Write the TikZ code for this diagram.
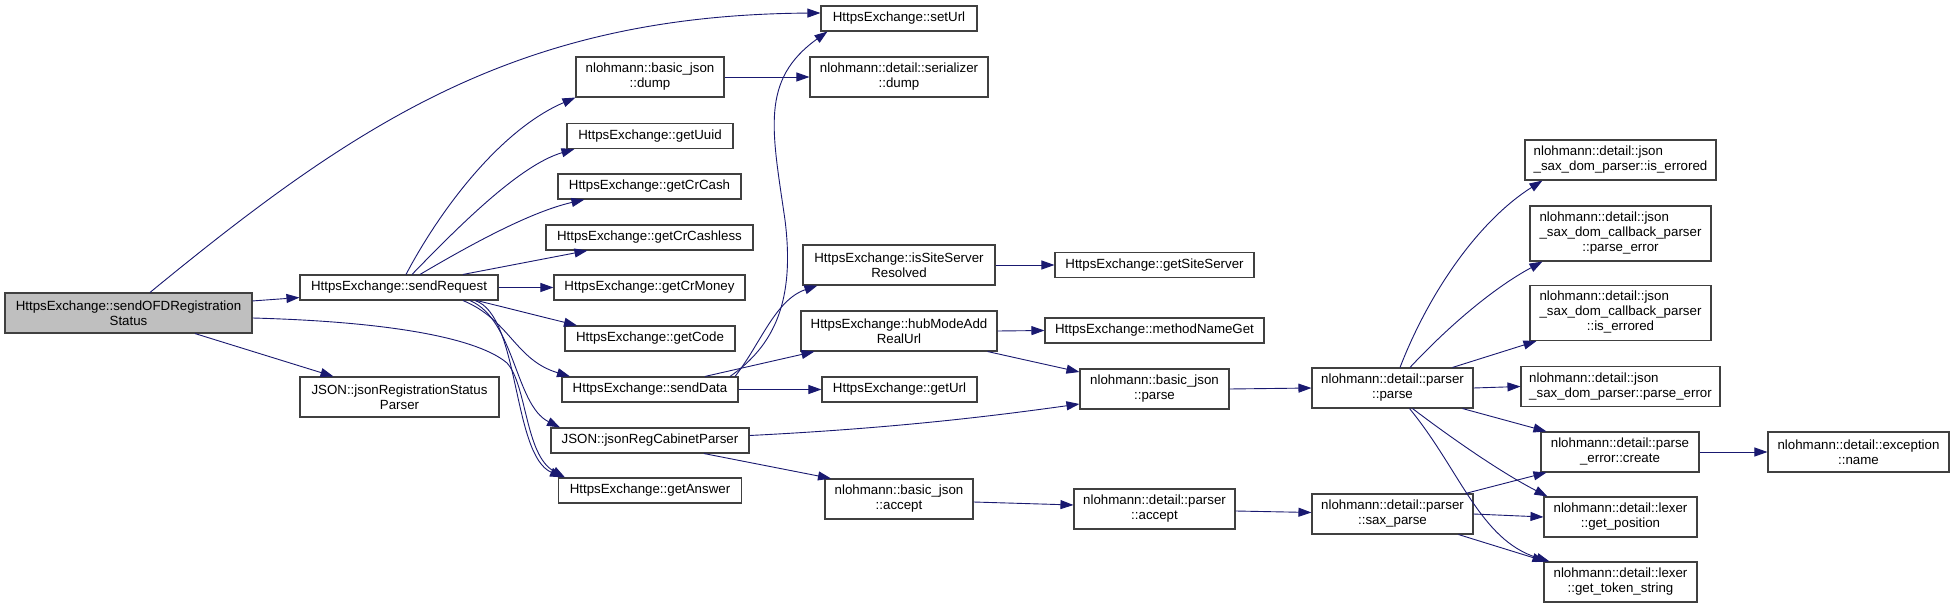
\documentclass[tikz,border=0pt]{standalone}
\usepackage{fontspec}
\setmainfont{Liberation Sans}
\usepackage{xcolor}
\usepackage{tikz}
\usetikzlibrary{arrows.meta, positioning}
\definecolor{edgeblue}{RGB}{25,25,112}
\definecolor{nodegray}{RGB}{64,64,64}
\definecolor{startfill}{RGB}{191,191,191}

\begin{document}
\begin{tikzpicture}[
  x=1pt, y=-1pt,
  box/.style={rectangle, draw=nodegray, line width=1.1pt, fill=white, minimum height=25pt, inner sep=2pt, align=center, font=\fontsize{13.3}{15}\selectfont},
  box2/.style={box, minimum height=40pt},
  box3/.style={box, minimum height=55pt},
  arrow/.style={-{Triangle[length=13pt,width=9pt]}, draw=edgeblue, line width=0.9pt}
]
  \path[fill=white] (0,0) rectangle (1955,609);
  \useasboundingbox (0,0) rectangle (1955,609);

  \node[box2, fill=startfill, minimum width=247pt] (ofd) at (128.5,313) {HttpsExchange::sendOFDRegistration\\Status};
  \node[box, minimum width=198pt] (sendReq) at (399,287.5) {HttpsExchange::sendRequest};
  \node[box2, minimum width=199pt] (jRegStatus) at (399.5,397) {JSON::jsonRegistrationStatus\\Parser};

  \node[box, minimum width=156pt] (setUrl) at (899,18.5) {HttpsExchange::setUrl};
  \node[box2, minimum width=148pt] (bjDump) at (650,77) {nlohmann::basic\_json\\::dump};
  \node[box2, minimum width=178pt] (serDump) at (899,77) {nlohmann::detail::serializer\\::dump};
  \node[box, minimum width=166pt] (getUuid) at (650,136) {HttpsExchange::getUuid};
  \node[box, minimum width=183pt] (getCrCash) at (649.5,186.5) {HttpsExchange::getCrCash};
  \node[box, minimum width=207pt] (getCrCashless) at (649.5,237.5) {HttpsExchange::getCrCashless};
  \node[box, minimum width=191pt] (getCrMoney) at (649.5,287.5) {HttpsExchange::getCrMoney};
  \node[box, minimum width=170pt] (getCode) at (650,338.5) {HttpsExchange::getCode};
  \node[box, minimum width=176pt] (sendData) at (650,389.5) {HttpsExchange::sendData};
  \node[box, minimum width=198pt] (jRegCab) at (650,440.5) {JSON::jsonRegCabinetParser};
  \node[box, minimum width=183pt] (getAnswer) at (650,490.5) {HttpsExchange::getAnswer};

  \node[box2, minimum width=192pt] (isSite) at (899,265) {HttpsExchange::isSiteServer\\Resolved};
  \node[box2, minimum width=196pt] (hub) at (899,331) {HttpsExchange::hubModeAdd\\RealUrl};
  \node[box, minimum width=155pt] (getUrl) at (899.5,389.5) {HttpsExchange::getUrl};
  \node[box2, minimum width=148pt] (bjAccept) at (899,499) {nlohmann::basic\_json\\::accept};

  \node[box, minimum width=199pt] (getSite) at (1154.5,265) {HttpsExchange::getSiteServer};
  \node[box, minimum width=219pt] (methodName) at (1154.5,330.5) {HttpsExchange::methodNameGet};
  \node[box2, minimum width=149pt] (bjParse) at (1154.5,389) {nlohmann::basic\_json\\::parse};
  \node[box2, minimum width=161pt] (pAccept) at (1154.5,509) {nlohmann::detail::parser\\::accept};

  \node[box2, minimum width=161pt] (pParse) at (1392.5,388) {nlohmann::detail::parser\\::parse};
  \node[box2, minimum width=161pt] (saxParse) at (1392.5,514) {nlohmann::detail::parser\\::sax\_parse};

  \node[box2, align=left, minimum width=191pt] (isErr) at (1620.5,160) {nlohmann::detail::json\\\_sax\_dom\_parser::is\_errored};
  \node[box3, minimum width=181pt] (cbParseErr) at (1620.5,233.5) {\begin{tabular}{@{}l@{}}nlohmann::detail::json\\\_sax\_dom\_callback\_parser\\\multicolumn{1}{@{}c@{}}{::parse\_error}\end{tabular}};
  \node[box3, minimum width=181pt] (cbIsErr) at (1620.5,313) {\begin{tabular}{@{}l@{}}nlohmann::detail::json\\\_sax\_dom\_callback\_parser\\\multicolumn{1}{@{}c@{}}{::is\_errored}\end{tabular}};
  \node[box2, align=left, minimum width=199pt] (saxParseErr) at (1620.5,386.5) {nlohmann::detail::json\\\_sax\_dom\_parser::parse\_error};
  \node[box2, minimum width=158pt] (create) at (1620,452) {nlohmann::detail::parse\\\_error::create};
  \node[box2, minimum width=153pt] (getPos) at (1620.5,517) {nlohmann::detail::lexer\\::get\_position};
  \node[box2, minimum width=153pt] (getTok) at (1620.5,582) {nlohmann::detail::lexer\\::get\_token\_string};
  \node[box2, minimum width=181pt] (excName) at (1858.5,452) {nlohmann::detail::exception\\::name};

  \draw[arrow] ([yshift=-8.5pt]ofd.north east) -- ([yshift=3pt]sendReq.south west);
  \draw[arrow] ([xshift=21.5pt]ofd.north) .. controls (360,120) and (520,15) .. ([yshift=5.5pt]setUrl.west);
  \draw[arrow] ([xshift=66.5pt]ofd.south) -- ([xshift=-66pt]jRegStatus.north);
  \draw[arrow] ([yshift=-5pt]ofd.east) .. controls (400,322) and (480,340) .. (507,363) .. controls (527,385) and (525,455) .. ([xshift=-85pt]getAnswer.north);

  \draw[arrow] ([xshift=7pt]sendReq.north) .. controls (440,210) and (500,130) .. (bjDump.south west);
  \draw[arrow] ([xshift=13pt]sendReq.north) .. controls (460,225) and (520,165) .. ([xshift=8pt]getUuid.south west);
  \draw[arrow] ([xshift=21pt]sendReq.north) .. controls (470,245) and (530,212) .. ([xshift=27pt]getCrCash.south west);
  \draw[arrow] ([xshift=64pt]sendReq.north) -- ([xshift=42pt]getCrCashless.south west);
  \draw[arrow] (sendReq.east) -- (getCrMoney.west);
  \draw[arrow] ([xshift=78pt]sendReq.south) -- ([xshift=-73pt]getCode.north);
  \draw[arrow] ([xshift=64pt]sendReq.south) .. controls (510,320) and (515,360) .. ([xshift=-80pt]sendData.north);
  \draw[arrow] ([xshift=71pt]sendReq.south) .. controls (515,320) and (515,405) .. ([xshift=-90pt]jRegCab.north);
  \draw[arrow] ([xshift=76pt]sendReq.south) .. controls (520,315) and (512,455) .. ([xshift=-87pt]getAnswer.north);

  \draw[arrow] ([xshift=80pt]sendData.north) .. controls (775,345) and (795,300) .. (785,220) .. controls (772,130) and (760,80) .. ([xshift=7pt]setUrl.south west);
  \draw[arrow] ([xshift=85pt]sendData.north) .. controls (760,345) and (775,300) .. ([xshift=15pt]isSite.south west);
  \draw[arrow] ([xshift=55pt]sendData.north) -- ([xshift=14pt]hub.south west);
  \draw[arrow] (sendData.east) -- (getUrl.west);
  \draw[arrow] (bjDump.east) -- (serDump.west);

  \draw[arrow] (isSite.east) -- (getSite.west);
  \draw[arrow] (hub.east) -- (methodName.west);
  \draw[arrow] ([xshift=-10pt]hub.south east) -- ([yshift=17pt]bjParse.west);
  \draw[arrow] ([yshift=5pt]jRegCab.east) .. controls (900,428) and (1000,415) .. ([yshift=-15pt]bjParse.west);
  \draw[arrow] ([xshift=54pt]jRegCab.south) -- ([xshift=-68pt]bjAccept.north);

  \draw[arrow] (bjParse.east) -- (pParse.west);
  \draw[arrow] ([yshift=-3pt]bjAccept.east) -- ([yshift=4pt]pAccept.west);
  \draw[arrow] ([yshift=-2pt]pAccept.east) -- ([yshift=1.5pt]saxParse.west);

  \draw[arrow] ([xshift=7.5pt]pParse.north) .. controls (1430,290) and (1480,220) .. ([xshift=18pt]isErr.south west);
  \draw[arrow] ([xshift=17.5pt]pParse.north) .. controls (1445,330) and (1490,290) .. ([xshift=13pt]cbParseErr.south west);
  \draw[arrow] ([xshift=60pt]pParse.north) -- ([xshift=7pt]cbIsErr.south west);
  \draw[arrow] (pParse.east) -- (saxParseErr.west);
  \draw[arrow] ([xshift=70pt]pParse.south) -- ([xshift=6pt]create.north west);
  \draw[arrow] ([xshift=20pt]pParse.south) .. controls (1450,437) and (1500,472) .. ([xshift=4pt]getPos.north west);
  \draw[arrow] ([xshift=17pt]pParse.south) .. controls (1460,470) and (1480,540) .. ([xshift=6pt]getTok.north west);

  \draw[arrow] ([xshift=73pt]saxParse.north) -- ([xshift=6pt]create.south west);
  \draw[arrow] (saxParse.east) -- (getPos.west);
  \draw[arrow] ([xshift=66pt]saxParse.south) -- ([xshift=2pt]getTok.north west);
  \draw[arrow] (create.east) -- (excName.west);
\end{tikzpicture}
\end{document}
